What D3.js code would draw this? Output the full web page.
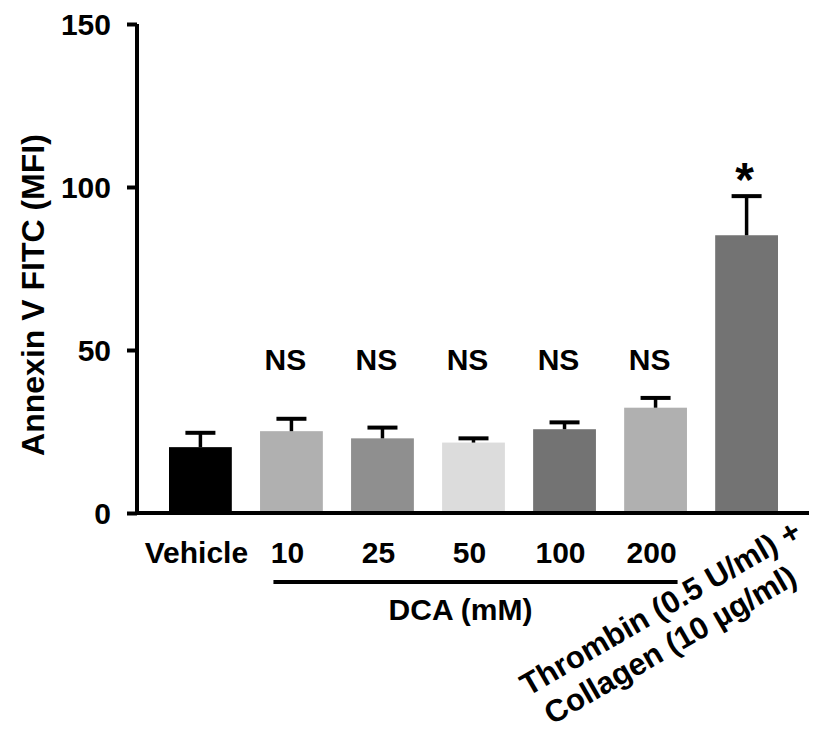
<!DOCTYPE html>
<html>
<head>
<meta charset="utf-8">
<script src="https://cdn.jsdelivr.net/npm/d3@7"></script>
<style>
  body { margin: 0; background: #fff; }
  text { font-family: "Liberation Sans", Arial, sans-serif; font-weight: bold; fill: #000; }
</style>
</head>
<body>
<div id="chart"></div>
<script>
// data
var groups = ["Vehicle", "10", "25", "50", "100", "200", "Thrombin"];
var means  = [20.2, 25.1, 22.9, 21.6, 25.7, 32.3, 85.2];
var sems   = [4.4, 3.8, 3.3, 1.3, 2.1, 3.0, 12.0];
var marks  = ["", "NS", "NS", "NS", "NS", "NS", "*"];
var yTicks = [0, 50, 100, 150];
var dcaGroups = ["10", "25", "50", "100", "200"];

var width = 830, height = 731;

//////// SCALES ////////
var x = d3.scaleBand().domain(groups).range([169, 778]).paddingInner(0.31).paddingOuter(0);
var y = d3.scaleLinear().domain([0, 150]).range([513, 24]);
var color = d3.scaleOrdinal().domain(groups)
    .range(["#000000", "#b0b0b0", "#8f8f8f", "#dcdcdc", "#737373", "#b0b0b0", "#737373"]);

var svg = d3.select("#chart").append("svg")
    .attr("width", width).attr("height", height);

var data = groups.map(function(g, i) {
    return { id: g, mean: means[i], sem: sems[i], mark: marks[i] };
});

function cx(id) { return x(id) + x.bandwidth() / 2; }

//////// BARS ////////
svg.selectAll("rect.bar").data(data).enter().append("rect")
    .attr("class", "bar")
    .attr("x", function(d) { return x(d.id); })
    .attr("width", x.bandwidth())
    .attr("y", function(d) { return y(d.mean); })
    .attr("height", function(d) { return y(0) - y(d.mean); })
    .style("fill", function(d) { return color(d.id); });

// error bars (upper only)
var eb = svg.selectAll("g.err").data(data).enter().append("g").attr("class", "err");
eb.append("line")
    .attr("x1", function(d) { return cx(d.id); })
    .attr("x2", function(d) { return cx(d.id); })
    .attr("y1", function(d) { return y(d.mean); })
    .attr("y2", function(d) { return y(d.mean + d.sem); })
    .style("stroke", "#000").style("stroke-width", 3.5);
eb.append("line")
    .attr("x1", function(d) { return cx(d.id) - 15; })
    .attr("x2", function(d) { return cx(d.id) + 15; })
    .attr("y1", function(d) { return y(d.mean + d.sem); })
    .attr("y2", function(d) { return y(d.mean + d.sem); })
    .style("stroke", "#000").style("stroke-width", 4);

// significance marks
svg.selectAll("text.ns").data(data.filter(function(d) { return d.mark === "NS"; }))
    .enter().append("text")
    .attr("class", "ns")
    .attr("x", function(d) { return cx(d.id) - 6; })
    .attr("y", y(44))
    .attr("text-anchor", "middle")
    .style("font-size", "30px")
    .text(function(d) { return d.mark; });

svg.selectAll("text.star").data(data.filter(function(d) { return d.mark === "*"; }))
    .enter().append("text")
    .attr("class", "star")
    .attr("x", function(d) { return cx(d.id) - 2; })
    .attr("y", function(d) { return y(d.mean + d.sem); })
    .attr("text-anchor", "middle")
    .style("font-size", "48px")
    .text(function(d) { return d.mark; });

//////// AXES ////////
var yAxis = d3.axisLeft(y).tickValues(yTicks).tickSize(10).tickPadding(16);
var gy = svg.append("g").attr("transform", "translate(137,0)").call(yAxis);
gy.select(".domain").attr("d", "M0," + y(150) + "V" + y(0)).style("stroke-width", 4);
gy.selectAll(".tick line").style("stroke-width", 4);
gy.selectAll(".tick text")
    .style("font-size", "30px")
    .style("font-family", "'Liberation Sans', Arial, sans-serif")
    .style("font-weight", "bold")
    .attr("dy", "0.35em");

svg.append("line")
    .attr("x1", 135).attr("x2", 809)
    .attr("y1", y(0)).attr("y2", y(0))
    .style("stroke", "#000").style("stroke-width", 4);

// x labels
svg.selectAll("text.xlab").data(groups.slice(0, 6)).enter().append("text")
    .attr("class", "xlab")
    .attr("x", function(d) { return cx(d) - 4; })
    .attr("y", 563)
    .attr("text-anchor", "middle")
    .style("font-size", "30px")
    .text(function(d) { return d; });

// DCA bracket
var dcaLeft = cx(dcaGroups[0]) - 18;
var dcaRight = cx(dcaGroups[dcaGroups.length - 1]) + 22;
svg.append("line")
    .attr("x1", dcaLeft).attr("x2", dcaRight)
    .attr("y1", 582).attr("y2", 582)
    .style("stroke", "#000").style("stroke-width", 4);
svg.append("text")
    .attr("x", (dcaLeft + dcaRight) / 2 - 15)
    .attr("y", 620)
    .attr("text-anchor", "middle")
    .style("font-size", "30px")
    .text("DCA (mM)");

// rotated label for the last group
var tl = svg.append("g")
    .attr("transform", "translate(" + (cx("Thrombin") - 81) + ",617) rotate(-30)");
tl.append("text").attr("x", 0).attr("y", 0)
    .attr("text-anchor", "middle").style("font-size", "31px")
    .text("Thrombin (0.5 U/ml) +");
tl.append("text").attr("x", -10).attr("y", 37)
    .attr("text-anchor", "middle").style("font-size", "31px")
    .text("Collagen (10 \u00b5g/ml)");

// y title
svg.append("text")
    .attr("transform", "translate(44,295) rotate(-90)")
    .attr("text-anchor", "middle")
    .style("font-size", "32px")
    .text("Annexin V FITC (MFI)");
</script>
</body>
</html>
